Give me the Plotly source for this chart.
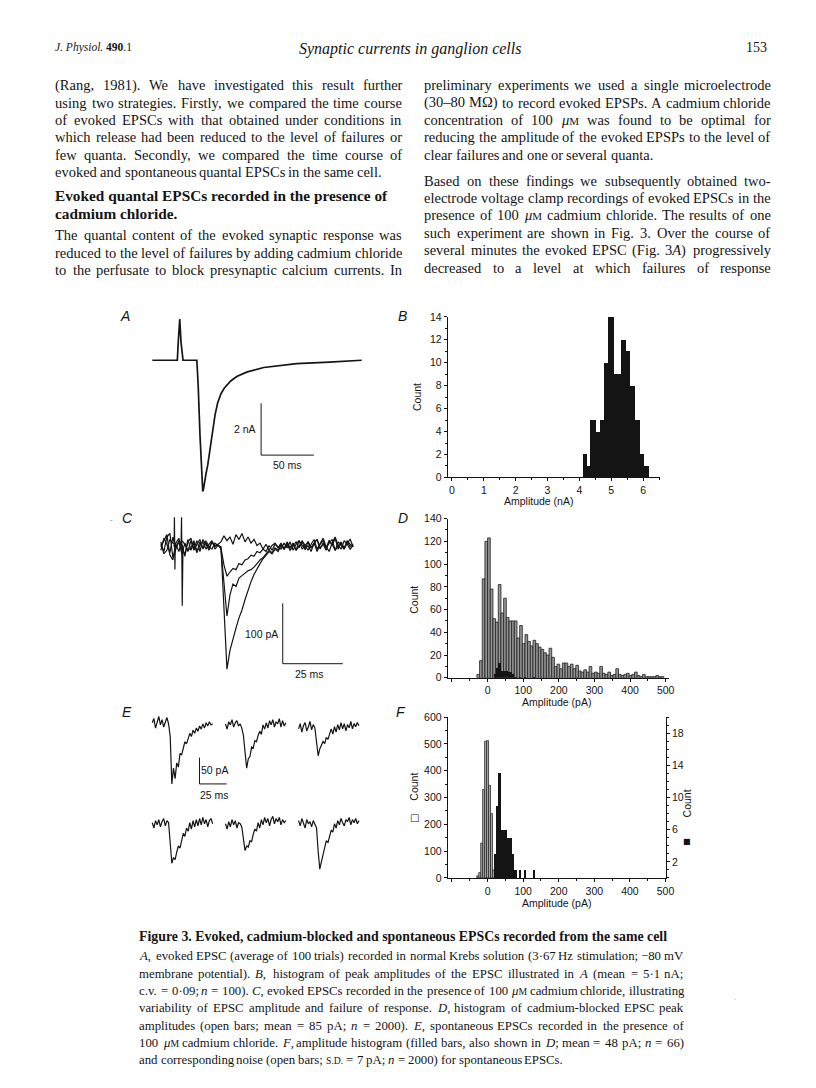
import re
import plotly.graph_objects as go

W, H = 816, 1088
SERIF = "Liberation Serif, Times New Roman, serif"
SANS = "Liberation Sans, Arial, sans-serif"
INK = "#141414"

# ---------------- DATA ----------------
# Panel A: averaged evoked EPSC (ms, nA)
A_time = [0, 23.7, 24.6, 26.0, 27.2, 29.1, 42.2, 43.5, 45.2, 46.7, 47.8, 48.6, 49.6,
          51.0, 52.5, 54.5, 57.2, 59.5, 61.9, 65.0, 68.1, 74.3, 80.0, 90.0, 105.6,
          120.0, 136.8, 167.8, 198.4]
A_current = [0, 0, 0.7, 1.59, 0.7, 0, 0, -1.0, -2.9, -4.3, -5.06, -4.95, -4.65,
             -4.35, -4.05, -3.5, -2.7, -2.1, -1.65, -1.3, -1.08, -0.8, -0.63, -0.45, -0.28,
             -0.2, -0.13, -0.07, 0]

# Panel B: histogram of evoked EPSC peak amplitudes (bin edges in nA, counts)
B_bin_edges = [4.11, 4.23, 4.34, 4.53, 4.66, 4.78, 4.91, 5.09, 5.31, 5.47, 5.59, 5.75, 5.90, 6.02, 6.18]
B_counts = [2, 1, 5, 4, 5, 10, 14, 9, 12, 11, 8, 5, 2, 1]

# Panel C: evoked EPSCs in cadmium (ms, pA)
C_step = 1.25
C_fail = [0, 10, 20, -14, -22, 6, 14, -6, -12, 8,
          14, -4, 10, -8, 12, 4, -6, 8, 2, 4,
          8, 18, 10, 16, 4, 20, 12, 22, 8, 16,
          6, 12, 2, 6, -4, 4, -6, 2, 6, -2,
          6, -4, 4, -6, 2, 8, -2, 10, 2, -6,
          4, 12, -4, 6, 14, 0, -8, 6, 16, 2,
          -4, 10, 4, -4, 2]
C_small = [4, -8, 16, 22, -18, -4, 10, 4, -16, 12,
           -6, 6, -10, 8, -2, 10, 0, -4, 6, 2,
           -2, -30, -49, -42, -36, -38, -28, -30, -22, -20,
           -14, -16, -8, -10, -4, -8, 2, -6, 4, 0,
           -4, 6, -2, 8, -6, 4, 10, -4, 2, 8,
           -2, 6, -8, 4, 10, -2, 6, 12, -6, 2,
           8, -4, 6, 12, 0]
C_medium = [-6, 14, 4, -10, 16, -2, 8, -12, 6, -8,
            10, -6, 4, 12, -4, 6, -2, 8, 0, 4,
            -4, -55, -115, -80, -62, -66, -52, -48, -44, -40,
            -38, -34, -28, -22, -18, -12, -6, -10, -2, -6,
            4, -4, 8, -2, 6, -6, 2, 8, -4, 2,
            -8, 6, 12, -2, 4, -6, 10, 2, 14, -4,
            6, -2, 8, 0, 4]
C_large = [8, -12, -6, 12, 6, 4, -8, 10, 4, -6,
           -2, 10, -8, 2, 8, -4, 4, 10, -4, 2,
           0, -100, -203, -172, -152, -135, -118, -105, -88, -72,
           -58, -46, -36, -28, -20, -14, -8, -12, -4, -8,
           2, -4, 6, -2, 4, -6, 10, 2, -4, 8,
           -2, 6, 12, -4, 6, -2, 10, 4, -6, 8,
           2, -4, 10, 4, 0]
C_artifact_t = [5.5, 5.65, 5.85, 6.0, None, 8.4, 8.6, 8.9, 9.2]
C_artifact_v = [0, 49, -38, 0, None, 0, 49, -98, 0]

# Panel D: cadmium-blocked EPSC amplitudes (open bars), pA
D_bin_start = -30
D_bin_width = 7.5
D_counts = [3, 15, 87, 120, 123, 78, 52, 49, 82, 57,
            70, 53, 50, 50, 50, 35, 46, 30, 38, 32,
            28, 33, 30, 27, 25, 22, 20, 26, 18, 10,
            12, 8, 13, 13, 10, 12, 8, 11, 6, 5,
            7, 5, 10, 4, 5, 4, 10, 4, 3, 5,
            2, 3, 8, 3, 2, 3, 4, 2, 3, 5,
            2, 1, 3, 1, 1, 1, 1, 2, 1, 1]

# Panel E: spontaneous EPSCs (ms, pA)
E_step = 1.5
E_traces = [
    [6, 14, -4, 10, 18, 2, 12, -2, 8, 16, 4,
     -20, -110, -80, -100, -70, -78, -52, -55, -40, -30, -34, -22, -14, -20, -8, -14,
     -4, -10, 0, -6, 4, -4, 6, 0, 8, 2, 4],
    [4, -6, 8, 2, 12, -2, 6, 10, 0, 4,
     -4, -18, -50, -80, -62, -58, -40, -42, -28, -30,
     -18, -10, -16, 2, -6, 6, -4, 10, 2, 12,
     -2, 8, 4, 14, -2, 10, 0, 6],
    [2, 12, -4, 8, 14, -2, 6, 16, 0, 10,
     4, -20, -49, -36, -30, -22, -26, -14, -18, -6,
     2, -8, 6, -4, 10, 0, 14, 2, 12, -2,
     10, 4, 16, 2, 12, 6, 14, 8],
    [4, -6, 8, 0, 10, -4, 6, 12, -2, 8,
     4, -30, -73, -62, -66, -52, -40, -44, -28, -16,
     -22, -6, -12, 4, -8, 8, -4, 10, -2, 12,
     0, 14, 2, 10, -4, 8, 12, 2],
    [2, -8, 6, -4, 10, 0, 8, -6, 4, 2,
     -4, -26, -49, -40, -42, -30, -32, -18, -8, -12,
     4, -6, 10, 0, 14, 4, 12, -2, 10, 16,
     2, 12, 6, 14, 0, 10, 4, 8],
    [8, -2, 12, 4, -6, 10, 2, 6, -4, 8,
     0, -6, -50, -84, -70, -56, -48, -30, -34, -20,
     -10, -14, 2, -6, 8, 0, 12, 4, -2, 10,
     6, 14, 0, 10, 4, 12, 2, 8],
]
E_offsets = [(0, 0), (67.3, 0), (134.5, -7.5), (0, -187.6), (67.3, -187.6), (134.5, -187.6)]

# Panel F: noise (open bars, left axis) and spontaneous EPSC amplitudes (filled bars, right axis)
F_noise_centers = [-27.5, -22, -16.5, -11, -5.5, 0, 5.5, 11, 16.5]
F_noise_counts = [8, 20, 130, 330, 510, 512, 345, 240, 30]
F_noise_width = 5.5
F_filled_start = 17
F_filled_width = 6.5
F_filled_counts = [3, 9, 13, 6, 6, 6, 5, 5, 3, 1, 0, 1, 0, 1, 0, 0, 0, 1]

# ---------------- text content ----------------
LEFT_PARA1 = [
    "(Rang, 1981). We have investigated this result further",
    "using two strategies. Firstly, we compared the time course",
    "of evoked EPSCs with that obtained under conditions in",
    "which release had been reduced to the level of failures or",
    "few quanta. Secondly, we compared the time course of",
    "evoked and spontaneous quantal EPSCs in the same cell.",
]
LEFT_HEADING = ["Evoked quantal EPSCs recorded in the presence of", "cadmium chloride."]
LEFT_PARA2 = [
    "The quantal content of the evoked synaptic response was",
    "reduced to the level of failures by adding cadmium chloride",
    "to the perfusate to block presynaptic calcium currents. In",
]
RIGHT_PARA1 = [
    "preliminary experiments we used a single microelectrode",
    "(30–80 MΩ) to record evoked EPSPs. A cadmium chloride",
    "concentration of 100 {uM} was found to be optimal for",
    "reducing the amplitude of the evoked EPSPs to the level of",
    "clear failures and one or several quanta.",
]
RIGHT_PARA2 = [
    "Based on these findings we subsequently obtained two-",
    "electrode voltage clamp recordings of evoked EPSCs in the",
    "presence of 100 {uM} cadmium chloride. The results of one",
    "such experiment are shown in Fig. 3. Over the course of",
    "several minutes the evoked EPSC (Fig. 3<i>A</i>) progressively",
    "decreased to a level at which failures of response",
]
CAPTION_TITLE = "Figure 3. Evoked, cadmium-blocked and spontaneous EPSCs recorded from the same cell"
CAPTION = [
    "<i>A</i>, evoked EPSC (average of 100 trials) recorded in normal Krebs solution (3·67 Hz stimulation; −80 mV",
    "membrane potential). <i>B</i>, histogram of peak amplitudes of the EPSC illustrated in <i>A</i> (mean = 5·1 nA;",
    "c.v. = 0·09; <i>n</i> = 100). <i>C</i>, evoked EPSCs recorded in the presence of 100 {uM} cadmium chloride, illustrating",
    "variability of EPSC amplitude and failure of response. <i>D</i>, histogram of cadmium-blocked EPSC peak",
    "amplitudes (open bars; mean = 85 pA; <i>n</i> = 2000). <i>E</i>, spontaneous EPSCs recorded in the presence of",
    "100 {uM} cadmium chloride. <i>F</i>, amplitude histogram (filled bars, also shown in <i>D</i>; mean = 48 pA; <i>n</i> = 66)",
    "and corresponding noise (open bars; {SD} = 7 pA; <i>n</i> = 2000) for spontaneous EPSCs.",
]

# ---------------- helpers ----------------
def dom_x(x0, x1):
    return [x0 / W, x1 / W]


def dom_y(y0, y1):
    return [1 - y1 / H, 1 - y0 / H]


def centers(start, width, n):
    return [start + width * (i + 0.5) for i in range(n)]


annotations = []


def ann(px, py, text, size=14.5, family=SERIF, xa="left", ya="middle", angle=0, color=INK):
    annotations.append(dict(x=px / W, y=1 - py / H, xref="paper", yref="paper", text=text,
                            showarrow=False, textangle=angle, xanchor=xa, yanchor=ya,
                            font=dict(family=family, size=size, color=color), borderpad=0))


# Times-compatible advance widths (per 1000 em) for justification
CW = dict(zip("abcdefghijklmnopqrstuvwxyz",
              [444, 500, 444, 500, 444, 333, 500, 500, 278, 278, 500, 278, 778, 500, 500, 500, 500,
               333, 389, 278, 500, 500, 722, 500, 500, 444]))
CW.update(zip("ABCDEFGHIJKLMNOPQRSTUVWXYZ",
              [722, 667, 667, 722, 611, 556, 722, 722, 333, 389, 722, 611, 889, 722, 722, 556, 722,
               667, 556, 611, 722, 722, 944, 722, 722, 611]))
CW.update({c: 500 for c in "0123456789"})
CW.update({" ": 250, ".": 250, ",": 250, ";": 278, ":": 278, "(": 333, ")": 333, "-": 333,
           "–": 500, "−": 564, "=": 564, "·": 250, "Ω": 768, "μ": 500})


def word(w, size):
    small = round(size * 0.76, 1)
    plain = re.sub(r"<[^>]+>", "", w)
    width = 0.0
    if "{uM}" in plain:
        width += (500 * size + 889 * small) / 1000
        plain = plain.replace("{uM}", "")
    if "{SD}" in plain:
        width += 1778 * small / 1000
        plain = plain.replace("{SD}", "")
    width += sum(CW.get(c, 500) for c in plain) * size / 1000
    html = (w.replace("{uM}", "<i>μ</i><span style='font-size:%spx'>M</span>" % small)
             .replace("{SD}", "<span style='font-size:%spx'>S.D.</span>" % small))
    return html, width


def text_line(x0, y, line, size, width, justify=True):
    items = [word(w, size) for w in line.split(" ")]
    total = sum(wd for _, wd in items)
    gap = (width - total) / (len(items) - 1) if (justify and len(items) > 1) else 250 * size / 1000
    x = x0
    for html, wd in items:
        ann(x, y, html, size=size)
        x += wd + gap


fig = go.Figure()
line_k = dict(color=INK, width=1.2)

# Panel A
fig.add_trace(go.Scatter(x=A_time, y=A_current, mode="lines", line=dict(color=INK, width=1.7),
                         xaxis="x", yaxis="y", hoverinfo="skip"))
fig.add_trace(go.Scatter(x=[103.1, 103.1, 153.1], y=[-1.66, -3.66, -3.66], mode="lines",
                         line=dict(color=INK, width=1), xaxis="x", yaxis="y", hoverinfo="skip"))

# Panel B
B_x = [(a + b) / 2 for a, b in zip(B_bin_edges[:-1], B_bin_edges[1:])]
B_w = [b - a for a, b in zip(B_bin_edges[:-1], B_bin_edges[1:])]
fig.add_trace(go.Bar(x=B_x, y=B_counts, width=B_w, marker=dict(color=INK, line=dict(width=0)),
                     xaxis="x2", yaxis="y2", hoverinfo="skip"))

# Panel C
C_time = [C_step * i for i in range(len(C_fail))]
for tr in (C_fail, C_small, C_medium, C_large):
    fig.add_trace(go.Scatter(x=C_time, y=tr, mode="lines", line=line_k, xaxis="x3", yaxis="y3",
                             hoverinfo="skip"))
fig.add_trace(go.Scatter(x=C_artifact_t, y=C_artifact_v, mode="lines", line=line_k,
                         xaxis="x3", yaxis="y3", hoverinfo="skip", connectgaps=False))
fig.add_trace(go.Scatter(x=[50.7, 50.7, 75.7], y=[-94, -194, -194], mode="lines",
                         line=dict(color=INK, width=1), xaxis="x3", yaxis="y3", hoverinfo="skip"))

# Panel D
fig.add_trace(go.Bar(x=centers(D_bin_start, D_bin_width, len(D_counts)), y=D_counts,
                     width=D_bin_width, marker=dict(color="#969696", line=dict(color="#1e1e1e", width=0.8)),
                     xaxis="x4", yaxis="y4", hoverinfo="skip"))
fig.add_trace(go.Bar(x=centers(F_filled_start, F_filled_width, len(F_filled_counts)), y=F_filled_counts,
                     width=F_filled_width, marker=dict(color=INK, line=dict(width=0)),
                     xaxis="x4", yaxis="y4", hoverinfo="skip"))

# Panel E
E_time = [E_step * i for i in range(len(E_traces[0]))]
for tr, (dx, dy) in zip(E_traces, E_offsets):
    fig.add_trace(go.Scatter(x=[t + dx for t in E_time], y=[v + dy for v in tr], mode="lines",
                             line=line_k, xaxis="x5", yaxis="y5", hoverinfo="skip"))
fig.add_trace(go.Scatter(x=[43.4, 43.4, 68.4], y=[-60, -110, -110], mode="lines",
                         line=dict(color=INK, width=1), xaxis="x5", yaxis="y5", hoverinfo="skip"))

# Panel F
fig.add_trace(go.Bar(x=F_noise_centers, y=F_noise_counts, width=F_noise_width,
                     marker=dict(color="#ababab", line=dict(color="#2a2a2a", width=0.8)),
                     xaxis="x6", yaxis="y6", hoverinfo="skip"))
fig.add_trace(go.Bar(x=centers(F_filled_start, F_filled_width, len(F_filled_counts)), y=F_filled_counts,
                     width=F_filled_width, marker=dict(color=INK, line=dict(width=0)),
                     xaxis="x6", yaxis="y7", hoverinfo="skip"))

# ---------------- axes ----------------
hidden = dict(visible=False, fixedrange=True)
tickfont = dict(family=SANS, size=10.5, color=INK)


def hax(**kw):
    d = dict(showline=True, linecolor=INK, linewidth=1, ticks="outside", ticklen=3, tickwidth=1,
             tickcolor=INK, showgrid=False, zeroline=False, tickfont=tickfont, fixedrange=True)
    d.update(kw)
    return d


def minor(dt):
    return dict(ticks="outside", ticklen=2, tickcolor=INK, dtick=dt, tick0=0, showgrid=False)


layout = dict(
    width=W, height=H, margin=dict(l=0, r=0, t=0, b=0), paper_bgcolor="white",
    plot_bgcolor="rgba(0,0,0,0)", showlegend=False, barmode="overlay", bargap=0,
    xaxis=dict(domain=dom_x(150, 370), range=[-3.75, 202.4], anchor="y", **hidden),
    yaxis=dict(domain=dom_y(305, 495), range=[-5.22, 2.03], anchor="x", **hidden),
    xaxis2=hax(domain=dom_x(452.7, 667), range=[-0.134, 6.52], anchor="y2",
               tickvals=[0, 1, 2, 3, 4, 5, 6], minor=minor(0.5)),
    yaxis2=hax(domain=dom_y(314.3, 476.7), range=[0, 14], anchor="x2", dtick=2, minor=minor(1)),
    xaxis3=dict(domain=dom_x(150, 370), range=[-5.2, 85.3], anchor="y3", **hidden),
    yaxis3=dict(domain=dom_y(510, 690), range=[-234.9, 60.2], anchor="x3", **hidden),
    xaxis4=hax(domain=dom_x(452.7, 676), range=[-112, 508], anchor="y4",
               tickvals=[-100, 0, 100, 200, 300, 400, 500],
               ticktext=["", "0", "100", "200", "300", "400", "500"], minor=minor(50)),
    yaxis4=hax(domain=dom_y(518.3, 679.3), range=[0, 140], anchor="x4", dtick=20, minor=minor(10)),
    xaxis5=dict(domain=dom_x(150, 370), range=[-3.6, 196.4], anchor="y5", **hidden),
    yaxis5=dict(domain=dom_y(712, 890), range=[-304, 30], anchor="x5", **hidden),
    xaxis6=hax(domain=dom_x(452.7, 673.3), range=[-112, 501], anchor="y6",
               tickvals=[-100, 0, 100, 200, 300, 400, 500],
               ticktext=["", "0", "100", "200", "300", "400", "500"], minor=minor(50)),
    yaxis6=hax(domain=dom_y(719, 881.7), range=[0, 600], anchor="x6", dtick=100, minor=minor(50)),
    yaxis7=hax(range=[0, 20], anchor="x6", overlaying="y6", side="right",
               tickvals=[2, 6, 10, 14, 18], minor=minor(1)),
)

# ---------------- text ----------------
BODY = 14.5
ann(55, 42, "<i>J. Physiol.</i> <b>490</b>.1", size=11.5)
ann(415, 43, "<i>Synaptic currents in ganglion cells</i>", size=16, xa="center")
ann(777, 42, "153", size=14, xa="right")

for i, s in enumerate(LEFT_PARA1):
    text_line(55, 80 + i * 17.6, s, BODY, 350, justify=(i < len(LEFT_PARA1) - 1))
for i, s in enumerate(LEFT_HEADING):
    ann(55, 192 + i * 18, "<b>" + s + "</b>", size=15.3)
for i, s in enumerate(LEFT_PARA2):
    text_line(55, 232 + i * 17.6, s, BODY, 350)
for i, s in enumerate(RIGHT_PARA1):
    text_line(428, 80 + i * 17.6, s, BODY, 350, justify=(i < len(RIGHT_PARA1) - 1))
for i, s in enumerate(RIGHT_PARA2):
    text_line(428, 176.5 + i * 17.6, s, BODY, 350)

# panel letters
for px, py, s in [(126, 313, "A"), (407, 313, "B"), (129, 518, "C"), (407, 518, "D"),
                  (128, 714, "E"), (405, 714, "F")]:
    ann(px, py, "<i>" + s + "</i>", size=14, family=SANS, xa="center")
ann(113, 519, "-", size=8, family=SANS, xa="center", color="#777")
ann(744, 1005, "·", size=8, family=SANS, xa="center", color="#999")

# scale-bar labels
ann(247.5, 428, "2 nA", size=10.5, family=SANS, xa="center")
ann(290.3, 464, "50 ms", size=10.5, family=SANS, xa="center")
ann(264, 635, "100 pA", size=10.5, family=SANS, xa="center")
ann(313.3, 675, "25 ms", size=10.5, family=SANS, xa="center")
ann(216.5, 773, "50 pA", size=10.5, family=SANS, xa="center")
ann(216.7, 798, "25 ms", size=10.5, family=SANS, xa="center")

# axis titles
ann(421, 395, "Count", size=10.5, family=SANS, xa="center", angle=-90)
ann(545, 501, "Amplitude (nA)", size=10.5, family=SANS, xa="center")
ann(419, 600, "Count", size=10.5, family=SANS, xa="center", angle=-90)
ann(563, 704, "Amplitude (pA)", size=10.5, family=SANS, xa="center")
ann(419, 789, "Count", size=10.5, family=SANS, xa="center", angle=-90)
ann(419, 821, "□", size=10, family="DejaVu Sans", xa="center")
ann(695, 806, "Count", size=10.5, family=SANS, xa="center", angle=-90)
ann(695, 845, "■", size=8, family="DejaVu Sans", xa="center")
ann(563, 907, "Amplitude (pA)", size=10.5, family=SANS, xa="center")

# caption
ann(140, 941, "<b>" + CAPTION_TITLE + "</b>", size=13.85)
for i, s in enumerate(CAPTION):
    text_line(140, 961 + i * 17.5, s, 12.8, 550, justify=(i < len(CAPTION) - 1))

layout["annotations"] = annotations
fig.update_layout(**layout)
fig.write_html("out.html", config={"displayModeBar": False, "staticPlot": True},
               post_script="document.body.style.margin='0px';")
